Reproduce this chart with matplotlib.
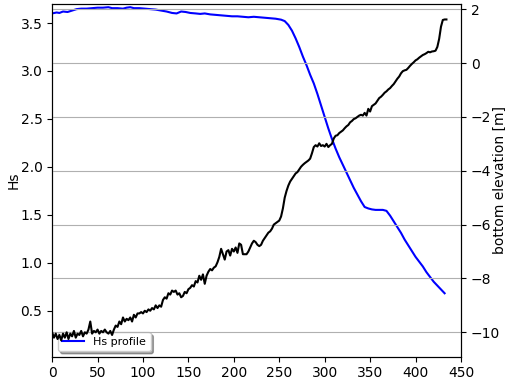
import numpy as np
import matplotlib
matplotlib.use('Agg')
import matplotlib.pyplot as plt

FIG_SIZE = (5.06, 3.85)

# Hs profile (left axis)
hs_x = [0, 5, 8, 12, 17, 22, 27, 32, 38, 44, 50, 56, 62, 66, 72, 78, 82, 86, 90, 96,
        102, 108, 114, 120, 126, 132, 137, 142, 147, 152, 158, 163, 168, 174, 180, 186,
        192, 198, 204, 210, 216, 222, 228, 234, 240, 246, 252, 256, 260, 264, 268, 272,
        276, 280, 284, 288, 292, 296, 300, 304, 308, 312, 316, 320, 324, 328, 332, 336,
        340, 344, 348, 352, 356, 360, 364, 368, 372, 376, 380, 384, 388, 392, 396, 400,
        404, 408, 412, 416, 420, 424, 428, 432]
hs = [3.60, 3.61, 3.605, 3.62, 3.615, 3.63, 3.645, 3.65, 3.65, 3.655, 3.66, 3.66, 3.665,
      3.655, 3.655, 3.65, 3.66, 3.665, 3.655, 3.655, 3.65, 3.645, 3.64, 3.63, 3.62, 3.605,
      3.60, 3.62, 3.615, 3.605, 3.60, 3.595, 3.60, 3.59, 3.585, 3.58, 3.575, 3.57, 3.57,
      3.565, 3.56, 3.565, 3.56, 3.555, 3.55, 3.545, 3.535, 3.52, 3.48, 3.42, 3.34, 3.25,
      3.15, 3.06, 2.96, 2.87, 2.76, 2.64, 2.52, 2.40, 2.29, 2.19, 2.10, 2.02, 1.94, 1.86,
      1.78, 1.71, 1.64, 1.58, 1.565, 1.555, 1.55, 1.55, 1.55, 1.54, 1.49, 1.43, 1.37, 1.31,
      1.24, 1.18, 1.12, 1.06, 1.01, 0.96, 0.90, 0.85, 0.80, 0.76, 0.72, 0.68]

# bottom elevation (right axis), every 2 m along the profile
bed_x = list(range(0, 436, 2))
bed = [-10.0, -10.2, -10.05, -10.25, -10.1, -10.3, -10.05, -10.2, -10.0, -10.25,
       -10.05, -10.15, -9.95, -10.2, -10.05, -10.1, -9.95, -10.15, -10.0, -10.05,
       -9.9, -9.6, -10.05, -9.95, -10.0, -9.9, -10.05, -9.95, -10.0, -9.9,
       -10.0, -10.05, -9.95, -10.1, -9.9, -9.75, -9.8, -9.6, -9.7, -9.45,
       -9.6, -9.5, -9.55, -9.45, -9.6, -9.35, -9.45, -9.3, -9.3, -9.25,
       -9.3, -9.2, -9.25, -9.15, -9.2, -9.1, -9.15, -9.0, -9.1, -9.0,
       -9.05, -8.8, -8.7, -8.75, -8.55, -8.6, -8.45, -8.5, -8.45, -8.6,
       -8.55, -8.7, -8.65, -8.5, -8.55, -8.4, -8.35, -8.25, -8.3, -8.1,
       -8.15, -7.9, -8.05, -7.85, -8.2, -7.9, -7.75, -7.65, -7.7, -7.6,
       -7.55, -7.4, -7.2, -6.9, -7.1, -7.3, -7.0, -6.95, -7.15, -6.9,
       -7.0, -6.85, -7.05, -6.7, -6.75, -7.1, -7.1, -7.1, -7.0, -6.85,
       -6.7, -6.6, -6.65, -6.75, -6.8, -6.75, -6.6, -6.5, -6.4, -6.3,
       -6.25, -6.15, -6.0, -5.95, -5.9, -5.85, -5.7, -5.4, -5.0, -4.75,
       -4.55, -4.4, -4.3, -4.2, -4.1, -4.05, -3.95, -3.85, -3.78, -3.72,
       -3.67, -3.62, -3.55, -3.35, -3.12, -3.05, -3.1, -2.98, -3.08, -3.05,
       -3.1, -3.0, -3.12, -3.05, -3.0, -2.8, -2.7, -2.68, -2.6, -2.55,
       -2.5, -2.42, -2.35, -2.3, -2.2, -2.15, -2.08, -2.05, -2.0, -1.95,
       -1.92, -1.95, -1.85, -1.95, -1.7, -1.8, -1.6, -1.55, -1.5, -1.4,
       -1.3, -1.25, -1.18, -1.1, -1.05, -0.98, -0.93, -0.85, -0.78, -0.68,
       -0.58, -0.5, -0.38, -0.3, -0.27, -0.25, -0.18, -0.1, -0.03, 0.03,
       0.1, 0.14, 0.2, 0.25, 0.3, 0.33, 0.37, 0.42, 0.4, 0.43,
       0.44, 0.46, 0.6, 0.9, 1.35, 1.6, 1.62, 1.62]
bed_x = bed_x[:len(bed)]

fig, ax1 = plt.subplots(figsize=FIG_SIZE)
fig.subplots_adjust(left=0.103, right=0.911, bottom=0.074, top=0.99)

ax1.plot(hs_x, hs, color='blue', label='Hs profile')
ax1.set_ylabel('Hs')
ax1.yaxis.set_label_coords(-0.077, 0.5)
ax1.set_xlim(0, 450)
ax1.set_ylim(0.02, 3.70)
ax1.set_yticks([0.5, 1.0, 1.5, 2.0, 2.5, 3.0, 3.5])
ax1.legend(loc='lower left', shadow=True, fontsize=8)

# second axis for the bed
ax2 = ax1.twinx()
ax2.plot(bed_x, bed, color='black')
ax2.set_ylabel('bottom elevation [m]')
ax2.yaxis.set_label_coords(1.079, 0.5)
ax2.set_ylim(-10.9, 2.2)
ax2.grid(True)

plt.savefig('out.png', dpi=100)
